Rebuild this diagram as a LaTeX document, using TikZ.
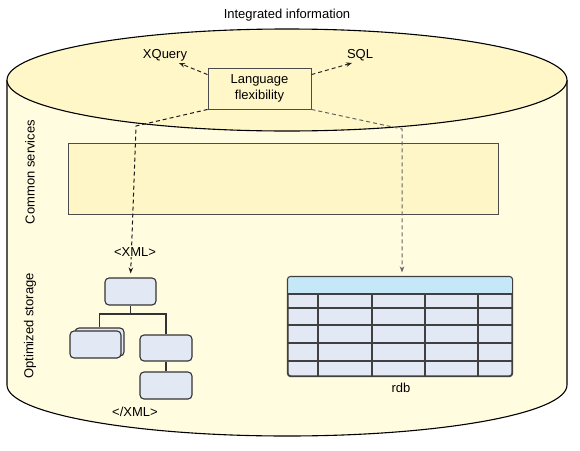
\documentclass[tikz,border=0pt]{standalone}
\usepackage{fontspec}
\setmainfont{Liberation Sans}
\usetikzlibrary{arrows.meta,positioning}

\definecolor{topfill}{HTML}{FFF7C8}
\definecolor{sidefill}{HTML}{FFFCE0}
\definecolor{svcfill}{HTML}{FEF6C6}
\definecolor{boxfill}{HTML}{E3E8F5}
\definecolor{headfill}{HTML}{C5E8F8}

\tikzset{
  txt/.style={font=\fontsize{13}{16}\selectfont, inner sep=2pt},
  langbox/.style={txt, draw=black!70, fill=topfill, line width=0.9pt, minimum width=103pt, minimum height=41pt, align=center},
  treebox/.style={draw=black!80, fill=boxfill, line width=1.1pt, rounded corners=4pt},
  dashline/.style={dashed, dash pattern=on 4pt off 3pt, line width=1pt, -{Stealth[length=6pt,width=4.5pt]}},
  grid/.style={draw=black!75, line width=1.1pt}
}

\begin{document}
\begin{tikzpicture}[x=1pt, y=-1pt]
  \useasboundingbox (0,0) rectangle (580,450);
  % cylinder
  \path[fill=sidefill] (7,80) -- (7,385) arc[start angle=180, end angle=0, x radius=280, y radius=51] -- (567,80) -- cycle;
  \draw[line width=1.1pt] (7,80) -- (7,385) arc[start angle=180, end angle=0, x radius=280, y radius=51] -- (567,80);
  \draw[fill=topfill, line width=1.1pt] (287,80) ellipse [x radius=280, y radius=51];
  \node[txt] (title) at (287,15) {Integrated information};

  % languages
  \node[langbox] (lang) at (259.5,88.5) {Language\\flexibility};
  \node[txt] (xquery) at (165,55) {XQuery};
  \node[txt] (sql) at (360,55) {SQL};
  \coordinate (lbend) at (136,126);
  \coordinate (rbend) at (402,129);

  % services
  \node[draw=black!70, fill=svcfill, line width=0.9pt, minimum width=430pt, minimum height=71pt] (svc) at (283,178.5) {};
  \node[txt, rotate=90] (svclabel) at (30,172) {Common services};
  \node[txt, rotate=90] (storelabel) at (30,326) {Optimized storage};

  % xml tree
  \node[treebox, minimum width=51pt, minimum height=27pt] (xroot) at (130.5,291.5) {};
  \node[treebox, minimum width=49pt, minimum height=28pt] (xback) at (99.5,342) {};
  \node[treebox, minimum width=51pt, minimum height=27pt] (xfront) at (95.5,344.5) {};
  \node[treebox, minimum width=52pt, minimum height=26pt] (xchild) at (166,348) {};
  \node[treebox, minimum width=52pt, minimum height=27pt] (xleaf) at (166,385.5) {};
  \coordinate (fork) at (130.5,314);
  \draw[black!80, line width=1.1pt] (xroot) -- (fork) -| (xback.north);
  \draw[black!80, line width=1.1pt] (fork) -| (xchild.north);
  \draw[black!80, line width=1.1pt] (xchild) -- (xleaf);
  \node[txt] (xmlclose) at (135,412) {</XML>};

  % table
  \node[draw=black!75, fill=boxfill, line width=1.1pt, rounded corners=3pt, minimum width=224pt, minimum height=99pt] (rdb) at (400,326.5) {};
  \begin{scope}
    \clip[rounded corners=3pt] (rdb.south west) rectangle (rdb.north east);
    \fill[headfill] (rdb.north west) rectangle (rdb.east |- 0,294);
    \foreach \y in {294,308,325,343,361}
      \draw[grid] (rdb.west |- 0,\y) -- (rdb.east |- 0,\y);
    \foreach \x in {318,372,425,478}
      \draw[grid] (\x,294) -- (rdb.south -| \x,0);
  \end{scope}
  \draw[black!75, line width=1.1pt, rounded corners=3pt] (rdb.south west) rectangle (rdb.north east);
  \node[txt] (rdblabel) at (401,388) {rdb};

  % dashed links
  \draw[dashline, black!85] (lang.165) -- (xquery.-30);
  \draw[dashline, black!85] (lang.15) -- (sql.-135);
  \draw[dashline, black!90, shorten >=4pt] (lang.south west) -- (lbend) -- (xroot.north);
  \draw[dashline, black!60, shorten >=4pt] (lang.south east) -- (rbend) -- (rbend |- rdb.north);
  \node[txt, fill=sidefill, inner sep=1pt] (xmlopen) at (135,252) {<XML>};
\end{tikzpicture}
\end{document}
